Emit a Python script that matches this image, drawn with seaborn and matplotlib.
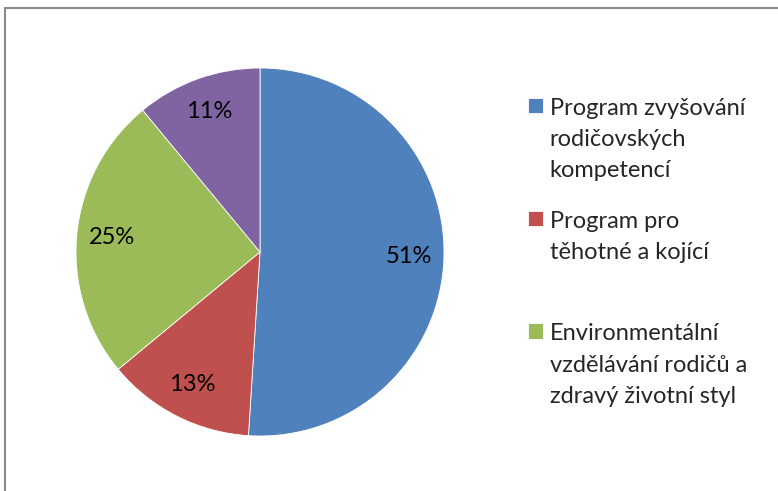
import matplotlib.pyplot as plt
from matplotlib.patches import Rectangle
import seaborn as sns

# Share of participants per programme
categories = ["Program zvyšování\nrodičovských\nkompetencí",
              "Program pro\ntěhotné a kojící",
              "Environmentální\nvzdělávání rodičů a\nzdravý životní styl",
              ""]
shares = [51, 13, 25, 11]
colors = ["#4F81BD", "#C0504D", "#9BBB59", "#8064A2"]

sns.set_style("white")
plt.rcParams["font.family"] = ["Lato", "DejaVu Sans"]

W, H = 778, 491
fig = plt.figure(figsize=(W / 100, H / 100), dpi=100)

# pie placed so that the circle sits where it does in the original
cx, cy, r = 260, 252, 184
ax = fig.add_axes([(cx - r) / W, (H - cy - r) / H, 2 * r / W, 2 * r / H])
wedges, texts, autotexts = ax.pie(
    shares, colors=sns.color_palette(colors), startangle=90, counterclock=False,
    autopct="%1.0f%%", pctdistance=0.81,
    wedgeprops=dict(edgecolor="white", linewidth=0.6),
    textprops=dict(fontsize=17, color="black"))
ax.set_xlim(-1, 1)
ax.set_ylim(-1, 1)

# legend only lists the first three programmes, each entry gets 3 lines of room
shown = categories[:3]
nlines = max(c.count("\n") for c in shown) + 1
labels = [c + "\n" * (nlines - 1 - c.count("\n")) for c in shown]
leg = ax.legend(wedges[:3], labels, loc="upper left",
                bbox_to_anchor=(528 / W, 1 - 98 / H), bbox_transform=fig.transFigure,
                frameon=False, fontsize=17, handlelength=0.62, handleheight=0.62,
                handletextpad=0.3, labelspacing=1.24, borderpad=0, borderaxespad=0)
for t in leg.get_texts():
    t.set_linespacing(1.6)
# put the colour square next to the first line instead of the last one
for col in leg._legend_handle_box.get_children():
    for row in col.get_children():
        row.align = "top"

# grey chart-area border (only top and left visible, as in the crop)
fig.patches.append(Rectangle((4.5 / W, -0.1), 1.0, (H - 7.5) / H + 0.1,
                             transform=fig.transFigure, fill=False,
                             edgecolor="#8a8a8a", linewidth=1.5))

fig.savefig("out.png", dpi=100)
